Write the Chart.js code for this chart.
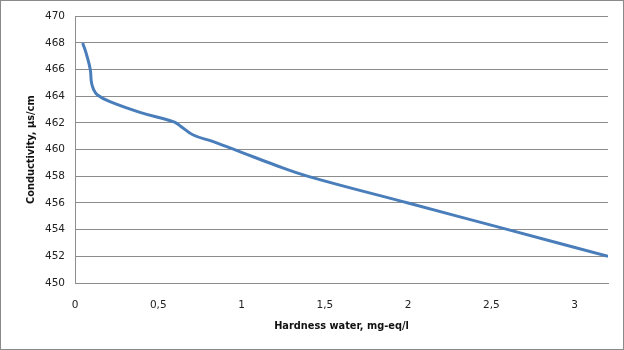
<!DOCTYPE html>
<html>
<head>
<meta charset="utf-8">
<script src="https://cdn.jsdelivr.net/npm/chart.js@4"></script>
<style>
  html, body { margin: 0; padding: 0; background: #fff; }
  #wrap { width: 624px; height: 350px; }
</style>
</head>
<body>
<div id="wrap"><canvas id="cond-chart" width="624" height="350"></canvas></div>
<script>
// hardness (mg-eq/l) vs conductivity (µs/cm)
const hardness = [0.046, 0.07, 0.092, 0.098, 0.11, 0.135, 0.21, 0.39, 0.59, 0.63, 0.71, 0.83, 1.0, 1.2, 1.4, 2.0, 2.6, 3.2];
const conductivity = [468.0, 467.1, 466.0, 465.1, 464.55, 464.1, 463.6, 462.8, 462.1, 461.8, 461.1, 460.6, 459.8, 458.85, 458.0, 456.0, 454.0, 452.0];

const xTitle = 'Hardness water, mg-eq/l';
const yTitle = 'Conductivity, µs/cm';

const gridGray = '#8c8c8c';
const tickFont = { family: 'DejaVu Sans', size: 10.5 };
const titleFont = { family: 'DejaVu Sans', size: 9.8, weight: 'bold' };

// thin frame around the whole chart
const frame = {
  id: 'frame',
  afterDraw(chart) {
    const ctx = chart.ctx;
    ctx.save();
    ctx.strokeStyle = '#8a8a8a';
    ctx.lineWidth = 1;
    ctx.strokeRect(0.5, 0.5, chart.width - 1, chart.height - 1);
    ctx.restore();
  }
};

const points = hardness.map((x, i) => ({ x: x, y: conductivity[i] }));

new Chart(document.getElementById('cond-chart').getContext('2d'), {
  type: 'line',
  data: {
    datasets: [{
      data: points,
      borderColor: '#4a7ebb',
      borderWidth: 3,
      pointRadius: 0,
      fill: false,
      tension: 0.4
    }]
  },
  options: {
    responsive: false,
    animation: false,
    layout: { padding: { left: 0, top: 9, right: 16, bottom: 0 } },
    plugins: { legend: { display: false }, tooltip: { enabled: false } },
    scales: {
      x: {
        type: 'linear',
        min: 0,
        max: 3.2,
        grid: { display: false },
        border: { display: true, color: gridGray },
        ticks: {
          stepSize: 0.5,
          includeBounds: false,
          maxRotation: 0,
          padding: 8,
          color: '#222',
          font: tickFont,
          callback: v => String(v).replace('.', ',')
        },
        title: {
          display: true,
          text: xTitle,
          color: '#111',
          font: titleFont,
          padding: { top: 18, bottom: 18 }
        },
        afterFit(scale) { scale.height = 67; }
      },
      y: {
        min: 450,
        max: 470,
        grid: { color: gridGray, drawTicks: false },
        border: { display: true, color: gridGray },
        ticks: {
          stepSize: 2,
          padding: 10,
          color: '#222',
          font: tickFont
        },
        title: {
          display: true,
          text: yTitle,
          color: '#111',
          font: titleFont,
          padding: { top: 26, bottom: 26 }
        },
        afterFit(scale) { scale.width = 75; }
      }
    }
  },
  plugins: [frame]
});
</script>
</body>
</html>
